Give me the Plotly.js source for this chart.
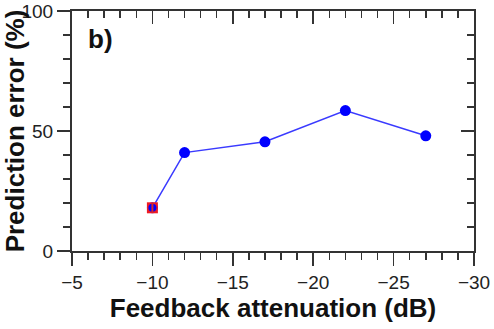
<!DOCTYPE html>
<html><head><meta charset="utf-8">
<script src="https://cdn.plot.ly/plotly-3.0.1.min.js"></script>
<style>html,body{margin:0;padding:0;background:#fff}#plot{width:494px;height:329px}</style>
</head><body><div id="plot"></div>
<script>
const attenuation = [-10, -12, -17, -22, -27];
const predError = [18, 41, 45.5, 58.5, 48];
const refX = [-10];
const refY = [18];
const xTicks = [-5, -10, -15, -20, -25, -30];
const yTicks = [0, 50, 100];

const font = 'Liberation Sans, Arial, sans-serif';
const axc = '#333';
const traces = [
  {x: attenuation, y: predError, mode: 'lines+markers', type: 'scatter',
   line: {color: '#3a3aff', width: 1.5}, marker: {color: '#0000ff', size: 11}, cliponaxis: false},
  {x: refX, y: refY, mode: 'markers', type: 'scatter',
   marker: {color: '#ee1c24', symbol: 'square', size: 11}, cliponaxis: false},
  {x: refX, y: refY, mode: 'markers', type: 'scatter',
   marker: {color: '#0000ff', size: 8}, cliponaxis: false},
  {x: refX, y: refY, mode: 'markers', type: 'scatter',
   marker: {symbol: 'line-ns-open', size: 7, line: {color: '#111', width: 2}}, cliponaxis: false},
  {x: [null], y: [null], xaxis: 'x2', yaxis: 'y2', type: 'scatter', mode: 'markers', hoverinfo: 'skip'}
];
const common = {showgrid: false, zeroline: false, showline: true, linecolor: axc, linewidth: 2,
  tickcolor: axc, tickwidth: 1.5, ticklen: 13};
const layout = {
  width: 494, height: 329, showlegend: false,
  margin: {l: 72, r: 20, t: 11, b: 78},
  paper_bgcolor: '#fff', plot_bgcolor: '#fff',
  font: {family: font, color: '#222'},
  xaxis: Object.assign({}, common, {range: [-5, -30], tickvals: xTicks, ticktext: xTicks.map(v => '\u2212' + Math.abs(v)),
    ticks: 'outside', tickfont: {size: 19, family: font, color: '#222'},
    minor: {dtick: 1, ticks: 'outside', ticklen: 7, tickcolor: axc, tickwidth: 1.5},
    title: {text: 'Feedback attenuation (dB)', font: {size: 26, family: font, color: '#111', weight: 'bold'}, standoff: 2}}),
  yaxis: Object.assign({}, common, {range: [0, 100], tickvals: yTicks, ticks: 'outside',
    tickfont: {size: 19, family: font, color: '#222'},
    minor: {dtick: 10, ticks: 'outside', ticklen: 7, tickcolor: axc, tickwidth: 1.5},
    title: {text: 'Prediction error (%)', font: {size: 26, family: font, color: '#111', weight: 'bold'}, standoff: 2}}),
  xaxis2: Object.assign({}, common, {overlaying: 'x', side: 'top', anchor: 'y2', range: [-5, -30], tickvals: xTicks,
    ticks: 'inside', showticklabels: false,
    minor: {dtick: 1, ticks: 'inside', ticklen: 7, tickcolor: axc, tickwidth: 1.5}}),
  yaxis2: Object.assign({}, common, {overlaying: 'y', side: 'right', anchor: 'x2', range: [0, 100], tickvals: yTicks,
    ticks: 'inside', showticklabels: false,
    minor: {dtick: 10, ticks: 'inside', ticklen: 7, tickcolor: axc, tickwidth: 1.5}}),
  annotations: [{text: '<b>b)</b>', xref: 'paper', yref: 'paper', x: 0.035, y: 0.955, xanchor: 'left', yanchor: 'top',
    showarrow: false, font: {size: 26, family: font, color: '#111'}}]
};
Plotly.newPlot('plot', traces, layout, {staticPlot: true, displayModeBar: false});
</script></body></html>
